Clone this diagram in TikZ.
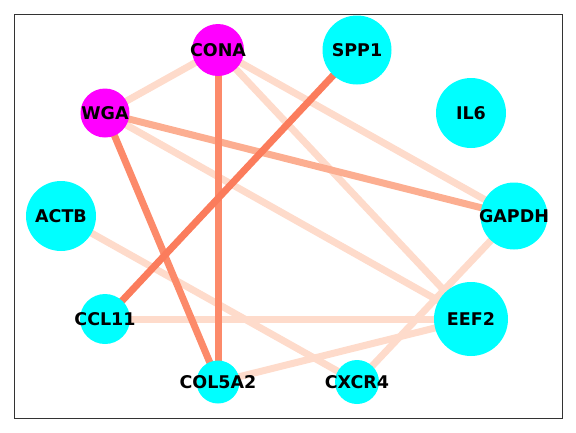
\documentclass[tikz,border=0pt]{standalone}
\usepackage{fontspec}
\setmainfont{DejaVu Sans}
\begin{document}
\begin{tikzpicture}[x=1pt,y=-1pt,
  lbl/.style={inner sep=0pt,font=\fontsize{17.5}{17.5}\selectfont\bfseries},
  gdisc/.style={fill=gcyan},
  ldisc/.style={fill=gmag},
  edgeA/.style={line width=7pt,draw=elight},
  edgeB/.style={line width=7pt,draw=emed},
  edgeC/.style={line width=7pt,draw=edark},
  edgeD/.style={line width=7pt,draw=edarker}]
\definecolor{gcyan}{RGB}{0,255,255}
\definecolor{gmag}{RGB}{255,0,255}
\definecolor{elight}{RGB}{254,219,203}
\definecolor{emed}{RGB}{252,174,145}
\definecolor{edark}{RGB}{252,138,106}
\definecolor{edarker}{RGB}{251,124,92}
\useasboundingbox (0,0) rectangle (576,432);
\draw[line width=1pt,draw={rgb,255:red,51;green,51;blue,51}] (14,14) rectangle (562,418);
% node coordinates
\coordinate (pCONA) at (218,50);
\coordinate (pSPP1) at (357,50);
\coordinate (pIL6) at (471,113);
\coordinate (pGAPDH) at (514,216);
\coordinate (pEEF2) at (471,319);
\coordinate (pCXCR4) at (357,382);
\coordinate (pCOL5A2) at (218,382);
\coordinate (pCCL11) at (105,319);
\coordinate (pACTB) at (61,216);
\coordinate (pWGA) at (105,113);
% edges
\draw[edgeA] (pCONA) -- (pWGA);
\draw[edgeA] (pCONA) -- (pGAPDH);
\draw[edgeA] (pCONA) -- (pEEF2);
\draw[edgeA] (pWGA) -- (pEEF2);
\draw[edgeA] (pACTB) -- (pCXCR4);
\draw[edgeA] (pCCL11) -- (pEEF2);
\draw[edgeA] (pCOL5A2) -- (pEEF2);
\draw[edgeA] (pGAPDH) -- (pCXCR4);
\draw[edgeB] (pWGA) -- (pGAPDH);
\draw[edgeC] (pCONA) -- (pCOL5A2);
\draw[edgeC] (pWGA) -- (pCOL5A2);
\draw[edgeD] (pSPP1) -- (pCCL11);
% node discs
\fill[ldisc] (pCONA) circle (26);
\fill[gdisc] (pSPP1) circle (34.5);
\fill[gdisc] (pIL6) circle (35);
\fill[gdisc] (pGAPDH) circle (33.5);
\fill[gdisc] (pEEF2) circle (37);
\fill[gdisc] (pCXCR4) circle (22);
\fill[gdisc] (pCOL5A2) circle (21.5);
\fill[gdisc] (pCCL11) circle (25);
\fill[gdisc] (pACTB) circle (35);
\fill[ldisc] (pWGA) circle (24.5);
% labels
\node[lbl] (CONA) at (pCONA) {CONA};
\node[lbl] (SPP1) at (pSPP1) {SPP1};
\node[lbl] (IL6) at (pIL6) {IL6};
\node[lbl] (GAPDH) at (pGAPDH) {GAPDH};
\node[lbl] (EEF2) at (pEEF2) {EEF2};
\node[lbl] (CXCR4) at (pCXCR4) {CXCR4};
\node[lbl] (COL5A2) at (pCOL5A2) {COL5A2};
\node[lbl] (CCL11) at (pCCL11) {CCL11};
\node[lbl] (ACTB) at (pACTB) {ACTB};
\node[lbl] (WGA) at (pWGA) {WGA};
\end{tikzpicture}
\end{document}
